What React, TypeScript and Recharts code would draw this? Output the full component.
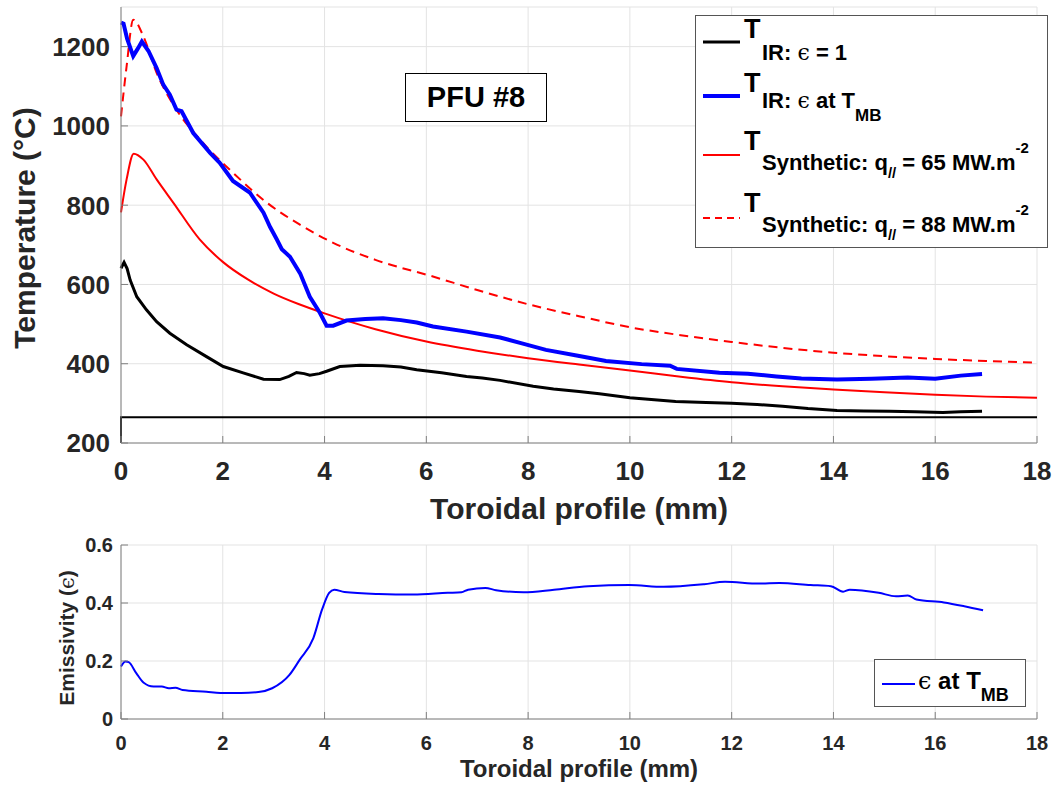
import React from "react";
import { LineChart, Line, XAxis, YAxis, CartesianGrid, Legend } from "recharts";

// [toroidal position (mm), temperature (°C)]
const tIrEps1: [number, number][] = [
	[0, 641], [0.06, 656], [0.12, 640], [0.18, 611], [0.31, 569], [0.5, 536], [0.7, 506],
	[0.96, 477], [1.29, 448], [1.68, 418], [2.01, 393], [2.4, 377], [2.8, 361], [3.12, 360],
	[3.3, 368], [3.45, 378], [3.6, 375], [3.71, 371], [3.9, 375], [4.04, 381], [4.3, 393],
	[4.7, 396], [5.15, 395], [5.5, 392], [5.81, 385], [6.3, 377], [6.79, 368], [7.1, 364],
	[7.45, 358], [8.1, 343], [8.5, 336], [9.0, 330], [9.4, 324], [10.0, 314], [10.9, 305],
	[11.5, 302], [12.0, 300], [12.5, 297], [13.0, 293], [13.5, 287], [14.07, 282], [14.6, 281],
	[15.1, 280], [15.6, 279], [16.15, 277], [16.5, 279], [16.92, 280],
];

const tIrEpsMB: [number, number][] = [
	[0, 1261], [0.05, 1258], [0.12, 1220], [0.24, 1176], [0.33, 1195], [0.41, 1213], [0.54, 1189],
	[0.7, 1146], [0.83, 1104], [0.96, 1079], [1.09, 1041], [1.19, 1037], [1.42, 982], [1.75, 932],
	[1.94, 907], [2.2, 861], [2.53, 832], [2.8, 781], [2.93, 745], [3.06, 714], [3.16, 689],
	[3.32, 670], [3.52, 628], [3.71, 569], [3.91, 528], [4.04, 496], [4.17, 496], [4.43, 509],
	[4.8, 513], [5.15, 515], [5.5, 510], [5.81, 504], [6.13, 494], [6.79, 481], [7.45, 466],
	[7.86, 452], [8.35, 435], [8.98, 420], [9.53, 407], [10.23, 399], [10.79, 395], [10.92, 387],
	[11.76, 377], [12.32, 375], [12.88, 368], [13.37, 363], [14.07, 360], [14.75, 362],
	[15.46, 365], [16.0, 362], [16.5, 370], [16.92, 374],
];

const tSyn65: [number, number][] = [
	[0, 782], [0.11, 865], [0.25, 930], [0.44, 915], [0.7, 865], [1.03, 806], [1.55, 713],
	[2.0, 657], [2.5, 612], [3.0, 577], [3.5, 550], [4.0, 527], [5.0, 487], [6.0, 456],
	[7.0, 433], [8.0, 414], [9.0, 398], [10.0, 383], [11.0, 367], [12.0, 353], [13.0, 343],
	[14.0, 335], [15.0, 328], [16.0, 322], [17.0, 317], [18.0, 314],
];

const tSyn88: [number, number][] = [
	[0, 1024], [0.11, 1150], [0.24, 1268], [0.44, 1226], [0.7, 1134], [1.09, 1041], [1.55, 966],
	[2.2, 882], [2.86, 807], [3.5, 752], [4.17, 705], [5.0, 662], [6.13, 620], [7.0, 586],
	[8.0, 550], [9.0, 520], [10.0, 492], [11.0, 472], [12.0, 455], [13.0, 440], [14.0, 428],
	[15.0, 419], [16.0, 412], [17.0, 407], [18.0, 403],
];

const tFloor: [number, number][] = [[0, 200], [0, 265], [18, 265]];

// [toroidal position (mm), emissivity]
const epsMB: [number, number][] = [
	[0, 0.181], [0.09, 0.198], [0.15, 0.196], [0.3, 0.158], [0.44, 0.126], [0.64, 0.112],
	[0.8, 0.112], [0.94, 0.106], [1.07, 0.108], [1.21, 0.1], [1.68, 0.094], [1.95, 0.09],
	[2.36, 0.09], [2.7, 0.093], [2.97, 0.106], [3.31, 0.152], [3.51, 0.204], [3.78, 0.279],
	[3.95, 0.377], [4.09, 0.435], [4.19, 0.446], [4.39, 0.438], [5.06, 0.431], [5.74, 0.429],
	[6.42, 0.435], [6.69, 0.437], [6.82, 0.446], [7.16, 0.452], [7.37, 0.444], [7.91, 0.437],
	[8.51, 0.446], [9.18, 0.458], [9.99, 0.462], [10.66, 0.456], [11.46, 0.465], [11.87, 0.473],
	[12.54, 0.467], [12.94, 0.469], [13.55, 0.462], [13.95, 0.458], [14.19, 0.439], [14.32, 0.446],
	[14.89, 0.435], [15.23, 0.423], [15.46, 0.426], [15.63, 0.412], [16.17, 0.402], [16.57, 0.389],
	[16.94, 0.375],
];

const xTicks = [0, 2, 4, 6, 8, 10, 12, 14, 16, 18];
const tempTicks = [200, 400, 600, 800, 1000, 1200];
const epsTicks = [0, 0.2, 0.4, 0.6];

const FONT = '"Liberation Sans", Arial, Helvetica, sans-serif';
const SERIF = '"DejaVu Serif", "Liberation Serif", serif';
const INK = "#262626";
const AXIS = "#808080";
const GRID = "#e3e3e3";

const toPoints = (arr: [number, number][]) => arr.map(([x, y]) => ({ x, y }));

const XTick = ({ x, y, payload, size, drop }: any) => (
	<g>
		<line x1={x} x2={x} y1={y} y2={y - 7} stroke={AXIS} />
		<text x={x} y={y + drop} textAnchor="middle" fontFamily={FONT} fontWeight="bold" fontSize={size} fill={INK}>
			{payload.value}
		</text>
	</g>
);

const YTick = ({ x, y, payload, size, gap }: any) => (
	<g>
		<line x1={x} x2={x + 7} y1={y} y2={y} stroke={AXIS} />
		<text x={x - gap} y={y + size * 0.36} textAnchor="end" fontFamily={FONT} fontWeight="bold" fontSize={size} fill={INK}>
			{payload.value}
		</text>
	</g>
);

const Eps = () => (
	<tspan fontFamily={SERIF} fontWeight="normal">ϵ</tspan>
);

// axis titles: fixed spots, ignore whatever props recharts injects
const Title = ({ tx, ty, size, rotate, children }: any) => (
	<text
		transform={`translate(${tx},${ty})${rotate ? " rotate(-90)" : ""}`}
		textAnchor="middle"
		fontFamily={FONT}
		fontWeight="bold"
		fontSize={size}
		fill={INK}
	>
		{children}
	</text>
);

const TopLegend = () => {
	const rows = [
		{ y: 27, color: "#000000", w: 3, dash: undefined },
		{ y: 81, color: "#0000ff", w: 4, dash: undefined },
		{ y: 140, color: "#ff0000", w: 2, dash: undefined },
		{ y: 203, color: "#ff0000", w: 2, dash: "7 5" },
	];
	const t = { fontFamily: FONT, fontWeight: "bold" as const, fill: "#000" };
	return (
		<svg width={353} height={233}>
			<rect x={0.5} y={0.5} width={352} height={232} fill="#fff" stroke="#555" />
			{rows.map((r, i) => (
				<line key={i} x1={8} x2={45} y1={r.y} y2={r.y} stroke={r.color} strokeWidth={r.w} strokeDasharray={r.dash} />
			))}
			<text x={49} y={23} fontSize={27} {...t}>T</text>
			<text x={67} y={45} fontSize={22} {...t}>IR: <Eps /> = 1</text>
			<text x={49} y={77} fontSize={27} {...t}>T</text>
			<text x={67} y={93} fontSize={22} {...t}>
				IR: <Eps /> at T<tspan fontSize={17} dy={13}>MB</tspan>
			</text>
			<text x={49} y={135} fontSize={27} {...t}>T</text>
			<text x={67} y={155} fontSize={22} {...t}>
				Synthetic: q<tspan fontSize={15} dy={8}>//</tspan>
				<tspan dy={-8}> = 65 MW.m</tspan>
				<tspan fontSize={15} dy={-17}>-2</tspan>
			</text>
			<text x={49} y={197} fontSize={27} {...t}>T</text>
			<text x={67} y={217} fontSize={22} {...t}>
				Synthetic: q<tspan fontSize={15} dy={8}>//</tspan>
				<tspan dy={-8}> = 88 MW.m</tspan>
				<tspan fontSize={15} dy={-17}>-2</tspan>
			</text>
		</svg>
	);
};

const BottomLegend = () => (
	<svg width={152} height={48}>
		<rect x={0.5} y={0.5} width={151} height={47} fill="#fff" stroke="#555" />
		<line x1={8} x2={41} y1={25} y2={25} stroke="#0000ff" strokeWidth={2} />
		<text x={44} y={30} fontFamily={FONT} fontWeight="bold" fontSize={24} fill="#000">
			<Eps /> at T<tspan fontSize={18} dy={12}>MB</tspan>
		</text>
	</svg>
);

export default function App() {
	return (
		<div style={{ position: "absolute", left: 0, top: 0, width: 1056, height: 787, background: "#fff" }}>
			<div style={{ position: "absolute", left: 0, top: 0 }}>
				<LineChart width={1056} height={530} margin={{ top: 7, right: 19, bottom: 0, left: 0 }}>
					<CartesianGrid stroke={GRID} />
					<XAxis
						type="number"
						dataKey="x"
						domain={[0, 18]}
						ticks={xTicks}
						interval={0}
						height={87}
						stroke={AXIS}
						tickSize={0}
						tickMargin={0}
						tick={<XTick size={26} drop={37} />}
						label={<Title tx={579} ty={519} size={30}>Toroidal profile (mm)</Title>}
					/>
					<YAxis
						type="number"
						domain={[200, 1300]}
						ticks={tempTicks}
						interval={0}
						width={121}
						stroke={AXIS}
						tickSize={0}
						tickMargin={0}
						tick={<YTick size={26} gap={11} />}
						label={<Title tx={35} ty={228} size={30} rotate>Temperature (°C)</Title>}
					/>
					<Line data={toPoints(tFloor)} dataKey="y" type="linear" stroke="#000" strokeWidth={2} dot={false} isAnimationActive={false} legendType="none" />
					<Line data={toPoints(tSyn65)} dataKey="y" type="monotone" stroke="#ff0000" strokeWidth={2} dot={false} isAnimationActive={false} />
					<Line data={toPoints(tSyn88)} dataKey="y" type="monotone" stroke="#ff0000" strokeWidth={2} strokeDasharray="9 6" dot={false} isAnimationActive={false} />
					<Line data={toPoints(tIrEps1)} dataKey="y" type="linear" stroke="#000" strokeWidth={3} dot={false} isAnimationActive={false} />
					<Line data={toPoints(tIrEpsMB)} dataKey="y" type="linear" stroke="#0000ff" strokeWidth={4} dot={false} isAnimationActive={false} />
					<Legend
						layout="horizontal"
						verticalAlign="middle"
						align="center"
						content={() => <TopLegend />}
						wrapperStyle={{ position: "absolute", left: 695, top: 15, width: 353, height: 233 }}
					/>
				</LineChart>
				<div
					style={{
						position: "absolute",
						left: 405,
						top: 73,
						width: 140,
						height: 47,
						border: "1px solid #000",
						background: "#fff",
						display: "flex",
						alignItems: "center",
						justifyContent: "center",
						fontFamily: FONT,
						fontWeight: "bold",
						fontSize: 29,
						color: "#000",
					}}
				>
					PFU #8
				</div>
			</div>
			<div style={{ position: "absolute", left: 0, top: 530 }}>
				<LineChart width={1056} height={257} margin={{ top: 15, right: 19, bottom: 0, left: 0 }}>
					<CartesianGrid stroke={GRID} />
					<XAxis
						type="number"
						dataKey="x"
						domain={[0, 18]}
						ticks={xTicks}
						interval={0}
						height={68}
						stroke={AXIS}
						tickSize={0}
						tickMargin={0}
						tick={<XTick size={20} drop={31} />}
						label={<Title tx={579} ty={247} size={24}>Toroidal profile (mm)</Title>}
					/>
					<YAxis
						type="number"
						domain={[0, 0.6]}
						ticks={epsTicks}
						interval={0}
						width={121}
						stroke={AXIS}
						tickSize={0}
						tickMargin={0}
						tick={<YTick size={20} gap={8} />}
						label={
							<Title tx={74} ty={108} size={21} rotate>
								Emissivity (<Eps />)
							</Title>
						}
					/>
					<Line data={toPoints(epsMB)} dataKey="y" type="monotone" stroke="#0000ff" strokeWidth={2} dot={false} isAnimationActive={false} />
					<Legend
						layout="horizontal"
						verticalAlign="middle"
						align="center"
						content={() => <BottomLegend />}
						wrapperStyle={{ position: "absolute", left: 874, top: 129, width: 152, height: 48 }}
					/>
				</LineChart>
			</div>
		</div>
	);
}
